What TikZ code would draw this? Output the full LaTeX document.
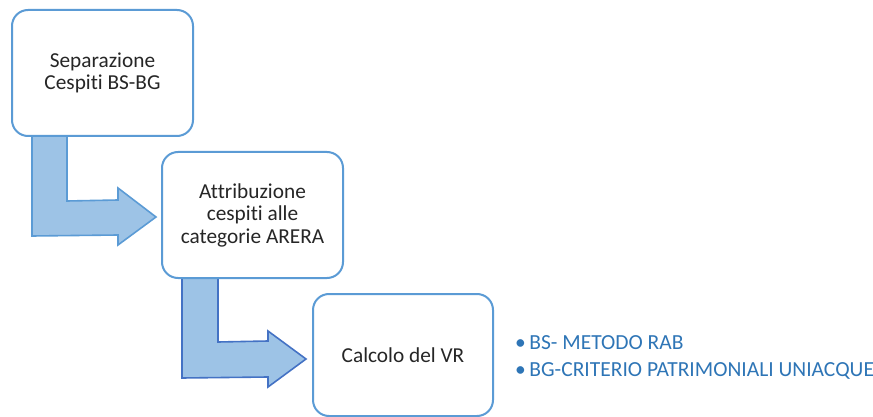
\documentclass[tikz,border=0pt]{standalone}
\usepackage{fontspec}
\setmainfont{Carlito}[Ligatures={NoCommon}]
\usetikzlibrary{calc,backgrounds}
\definecolor{boxblue}{HTML}{5B9BD5}
\definecolor{arrowfill}{HTML}{9DC3E6}
\definecolor{darkline}{HTML}{4472C4}
\definecolor{txt}{HTML}{262626}
\definecolor{listblue}{HTML}{2E75B6}
\tikzset{
  stepbox/.style={draw=boxblue, line width=2pt, fill=white, rounded corners=16pt,
    minimum width=181pt, minimum height=126pt, align=center, text=txt,
    font=\fontsize{21.3}{22.5}\selectfont, inner sep=0pt},
  bentarrow/.style={fill=arrowfill, line width=1.6pt, line join=miter},
}
\begin{document}
\begin{tikzpicture}[x=1pt,y=-1pt]
\useasboundingbox (0,0) rectangle (873,417);
% nodes
\node[stepbox] (b1) at (102.5,73) {Separazione\\Cespiti BS-BG};
\node[stepbox] (b2) at (252.5,215) {Attribuzione\\cespiti alle\\categorie ARERA};
\node[stepbox, minimum width=180pt, minimum height=122pt] (b3) at (403,355) {Calcolo del VR};
% bent arrows (behind boxes)
\begin{scope}[on background layer]
\path[bentarrow, draw=boxblue]
  ($(b1.south west)+(21,-2)$) -- ($(b1.south west)+(21,99)$) -- (118,235) -- (118,245)
  -- ($(b2.west)+(-5,2)$) -- (118,188) -- (118,200) -- ($(b1.south west)+(56,64)$)
  -- ($(b1.south west)+(56,-2)$);
\path[bentarrow, draw=darkline]
  ($(b2.south west)+(21,-2)$) -- ($(b2.south west)+(21,99)$) -- (268,377) -- (268,387)
  -- ($(b3.west)+(-6,4)$) -- (268,331) -- (268,341) -- ($(b2.south west)+(57,63)$)
  -- ($(b2.south west)+(57,-2)$);
\end{scope}
% list
\node[anchor=west, align=left, text=listblue, font=\fontsize{21.5}{27}\selectfont, inner sep=0pt]
  (list) at (515,357) {•\,BS- METODO RAB\\•\,BG-CRITERIO PATRIMONIALI UNIACQUE};
\end{tikzpicture}
\end{document}
